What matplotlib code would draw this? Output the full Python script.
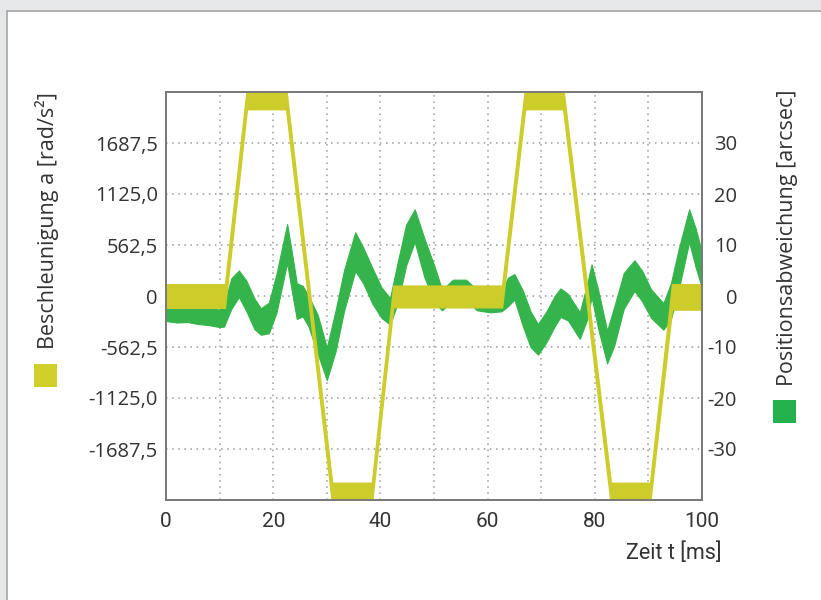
import numpy as np
import matplotlib.pyplot as plt
from matplotlib.patches import Rectangle
from matplotlib.ticker import FixedLocator, FuncFormatter

plt.rcParams['font.family'] = ['Open Sans', 'DejaVu Sans']
plt.rcParams['axes.unicode_minus'] = False

YELLOW = '#cccc2a'
GREEN = '#34b44a'
TEXT = '#333333'

# acceleration trace (left axis), envelope corners
acc_t = [0, 11.0, 15.1, 22.4, 31.0, 38.4, 42.4, 62.7, 67.0, 74.1, 83.0, 90.3, 94.4, 100]
acc_hi = [130, 130, 2300, 2300, -2060, -2060, 115, 115, 2300, 2300, -2060, -2060, 130, 130]
acc_lo = [-130, -130, 2060, 2060, -2300, -2300, -125, -125, 2060, 2060, -2300, -2300, -150, -150]

# position deviation trace (right axis): band centre and half width
pos_t = [0, 2, 4, 6, 8, 10, 10.8, 12.2, 13.6, 15.0, 16.5, 17.7, 19.2, 20.6, 22.6,
         23.6, 24.4, 25.5, 26.6, 28.3, 30.0, 31.6, 33.2, 35.3, 36.8, 38.5, 40.2,
         41.8, 43.2, 44.8, 46.4, 48.2, 50.2, 51.5, 53.5, 56.0, 58.0, 60.5, 62.6,
         63.8, 65.0, 66.6, 68.0, 69.4, 71.0, 72.5, 73.6, 75.0, 77.2, 78.6, 79.4,
         80.6, 82.3, 83.6, 85.4, 87.4, 88.8, 90.5, 92.8, 94.2, 95.6, 97.6, 98.8, 100]
pos_mid = [-3.2, -3.5, -3.4, -3.8, -4.0, -4.4, -3.8, 0.5, 2.4, 0.0, -3.5, -5.0, -4.3,
           0.5, 10.3, 4.0, -1.0, -1.0, -3.0, -7.5, -13.3, -7.0, 1.0, 8.7, 6.0, 2.0,
           -1.3, -3.0, 2.5, 10.0, 13.8, 7.5, 2.0, -0.8, 1.2, 1.2, -0.8, -1.2, -1.0,
           0.8, 1.8, -2.5, -6.5, -8.5, -6.0, -3.0, -1.3, -2.2, -5.8, -1.0, 3.0,
           -2.5, -10.0, -6.0, 1.0, 4.0, 2.0, -1.5, -4.0, -1.0, 5.0, 13.8, 9.5, 5.0]
pos_half = [1.7, 1.7, 1.7, 1.7, 1.7, 1.7, 2.2, 3.0, 2.6, 3.0, 3.0, 2.6, 3.0, 3.8, 3.8,
            3.8, 3.5, 3.0, 3.0, 3.8, 3.2, 4.0, 4.0, 3.8, 3.5, 3.5, 3.0, 2.6, 4.0,
            4.0, 3.2, 3.8, 3.5, 2.0, 2.0, 2.0, 2.0, 2.0, 2.0, 2.8, 2.5, 3.5, 3.5,
            3.0, 3.0, 3.0, 2.8, 2.6, 2.6, 3.5, 3.2, 3.8, 3.2, 3.8, 3.5, 3.0, 3.0,
            2.8, 2.6, 3.5, 4.0, 3.2, 3.8, 3.5]

acc_ticks = [-1687.5, -1125.0, -562.5, 0, 562.5, 1125.0, 1687.5]
pos_ticks = [-30, -20, -10, 0, 10, 20, 30]
t_ticks = [0, 20, 40, 60, 80, 100]

fig = plt.figure(figsize=(8.21, 6), dpi=100, facecolor='#e6e7e9')
W, H = 821, 600
# white panel with grey border
fig.patches.append(Rectangle((7 / W, -0.1), 1.2, 1 - 11 / H + 0.1, transform=fig.transFigure,
                             facecolor='white', edgecolor='#a6a6a6', linewidth=1.2, zorder=-5))

ax2 = fig.add_axes([166 / W, 1 - 500 / H, (702 - 166) / W, (500 - 92) / H])
ax = ax2.twinx()
ax.yaxis.tick_left()
ax2.yaxis.tick_right()
ax.set_zorder(ax2.get_zorder() + 1)
ax.patch.set_visible(False)

p_lo = np.array(pos_mid) - np.array(pos_half)
p_hi = np.array(pos_mid) + np.array(pos_half)
ax2.fill_between(pos_t, p_lo, p_hi, color=GREEN, linewidth=0.8, edgecolor=GREEN)
ax.fill_between(acc_t, acc_lo, acc_hi, color=YELLOW, linewidth=1.0, edgecolor=YELLOW)

ax.set_xlim(0, 100)
ax.set_ylim(-2250, 2250)
ax2.set_ylim(-40, 40)

ax2.xaxis.set_major_locator(FixedLocator(t_ticks))
ax2.xaxis.set_minor_locator(FixedLocator([10, 30, 50, 70, 90]))
ax2.set_yticks(pos_ticks)
ax.set_yticks(acc_ticks)
ax.yaxis.set_major_formatter(FuncFormatter(
    lambda v, p: '0' if v == 0 else f'{v:.1f}'.replace('.', ',')))

ax2.grid(True, which='both', axis='x', color='#9a9a9a', linestyle=(0, (1, 3)), linewidth=1.1)
ax2.grid(True, which='major', axis='y', color='#9a9a9a', linestyle=(0, (1, 3)), linewidth=1.1)
ax2.set_axisbelow(True)

for a in (ax, ax2):
    for s in a.spines.values():
        s.set_color('#7a7a7a')
        s.set_linewidth(1.4)
    a.tick_params(which='both', length=0, labelsize=14.5, labelcolor=TEXT)

ax.tick_params(axis='y', pad=5.8)
ax2.tick_params(axis='x', pad=8.6)
ax2.tick_params(axis='y', pad=25.2)
for lab in ax2.get_yticklabels():
    lab.set_horizontalalignment('right')
for lab in ax2.get_xticklabels():
    lab.set_fontfamily('Roboto')
    lab.set_fontsize(15)

fig.text(722 / W, 1 - 553 / H, 'Zeit t [ms]', ha='right', va='center', fontsize=15.5,
         color=TEXT, family='Roboto')
fig.text(47 / W, 1 - 92 / H, 'Beschleunigung a [rad/s²]', rotation=90, ha='center', va='top',
         fontsize=15.5, color=TEXT)
fig.text(787 / W, 1 - 90 / H, 'Positionsabweichung [arcsec]', rotation=90, ha='center', va='top',
         fontsize=15.5, color=TEXT)
fig.patches.append(Rectangle((34 / W, 1 - 387 / H), 23 / W, 23 / H, transform=fig.transFigure,
                             facecolor='#d0d02a', edgecolor='none'))
fig.patches.append(Rectangle((773 / W, 1 - 423 / H), 23 / W, 23 / H, transform=fig.transFigure,
                             facecolor='#22b14c', edgecolor='none'))

fig.savefig('out.png', dpi=100, facecolor=fig.get_facecolor())
